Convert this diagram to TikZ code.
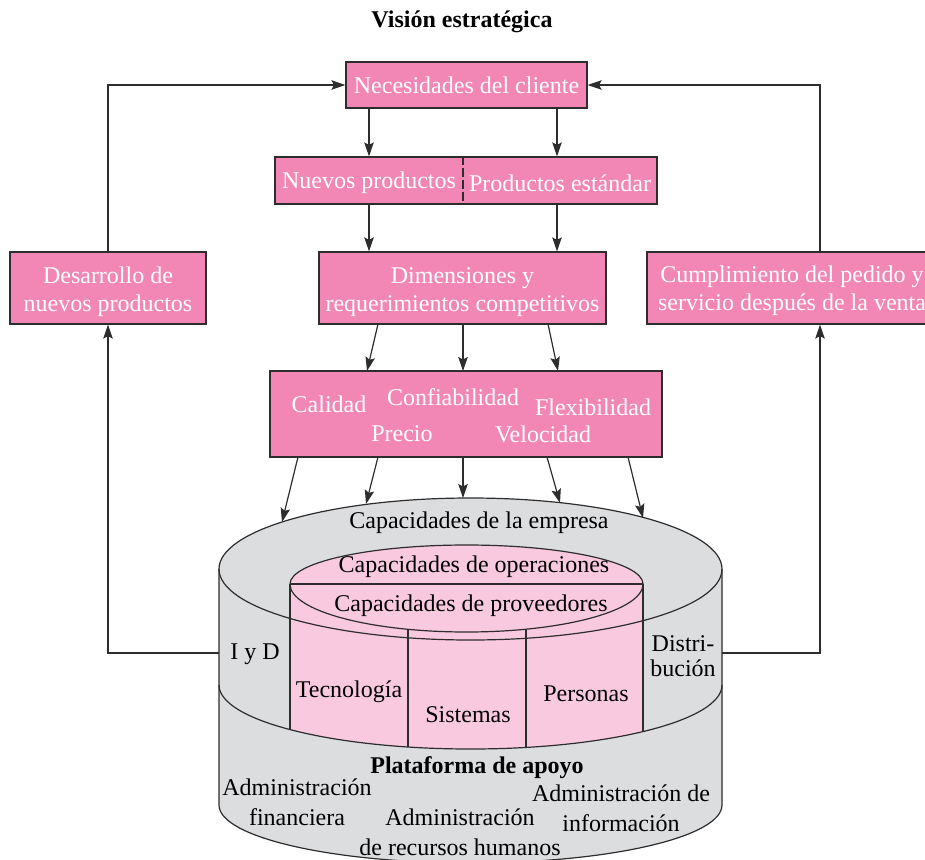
\documentclass[tikz,border=0pt]{standalone}
\usepackage{fontspec}
\setmainfont{Liberation Serif}
\usetikzlibrary{arrows.meta,calc}
\definecolor{boxpink}{RGB}{242,135,181}
\definecolor{lightpink}{RGB}{249,202,223}
\definecolor{cylgrey}{RGB}{220,221,223}
\definecolor{linegrey}{RGB}{45,45,45}
\begin{document}
\begin{tikzpicture}[x=1pt,y=-1pt,
  pbox/.style={draw=linegrey, line width=1.2pt, fill=boxpink, text=white,
    font=\fontsize{24}{28}\selectfont, align=center, inner sep=0pt},
  wtxt/.style={text=white, font=\fontsize{24}{28}\selectfont, inner sep=0pt, align=center},
  lbl/.style={font=\fontsize{24}{30}\selectfont, align=center, inner sep=0pt, text=black},
  conn/.style={draw=linegrey, line width=1.2pt},
  arr/.style={conn, -{Stealth[length=14pt,width=9.5pt,inset=2.5pt]}},
  cyl/.style={draw=linegrey, line width=1.2pt}]
\useasboundingbox (0,0) rectangle (925,859);

% ---------- title ----------
\node[lbl, font=\bfseries\fontsize{24}{28}\selectfont] (title) at (462,22) {Visión estratégica};

% ---------- boxes ----------
\node[pbox, minimum width=241, minimum height=46] (nec) at (466.5,85) {Necesidades del cliente};
\node[pbox, minimum width=382, minimum height=47] (np) at (466,180.5) {};
\node[wtxt] (nue) at (369,183) {Nuevos productos};
\node[wtxt] (est) at (560,183) {Productos estándar};
\coordinate (xD) at (463,0);
\draw[linegrey, line width=1.2pt, dash pattern=on 9pt off 3pt] (np.north -| xD) -- (np.south -| xD);

\node[pbox, minimum width=287, minimum height=72] (dim) at (462.5,288) {};
\node[wtxt] (dimt) at (462.5,292) {Dimensiones y\\requerimientos competitivos};
\node[pbox, minimum width=196, minimum height=72] (des) at (108,288) {};
\node[wtxt] (dest) at (108,292) {Desarrollo de\\nuevos productos};
\node[pbox, minimum width=290, minimum height=72] (cum) at (792,288) {};
\node[wtxt] (cumt) at (792,291) {Cumplimiento del pedido y\\servicio después de la venta};

\node[pbox, minimum width=392, minimum height=86] (cal) at (466,414) {};
\node[wtxt] (calidad) at (329,404) {Calidad};
\node[wtxt] (conf) at (453,397) {Confiabilidad};
\node[wtxt] (flex) at (593,407) {Flexibilidad};
\node[wtxt] (precio) at (402,434) {Precio};
\node[wtxt] (vel) at (543,434) {Velocidad};

% ---------- cylinder ----------
\path[fill=cylgrey] (219,569) -- (219,805)
  arc[start angle=180,end angle=0,x radius=251.5,y radius=58] -- (722,569)
  arc[start angle=0,end angle=-180,x radius=251.5,y radius=71] -- cycle;
\path[fill=lightpink] (290,584) -- (290,729.6)
  arc[start angle=135.86,end angle=46.69,x radius=251.5,y radius=64] -- (643,584)
  arc[start angle=0,end angle=-180,x radius=176.5,y radius=39] -- cycle;
\path[fill=lightpink] (290,584) arc[start angle=180,end angle=0,x radius=176.5,y radius=48] -- cycle;

\draw[cyl] (219,569) -- (219,805)
  arc[start angle=180,end angle=0,x radius=251.5,y radius=58] -- (722,569);
\draw[cyl] (470.5,569) ellipse[x radius=251.5,y radius=71];
\draw[cyl] (219,685) arc[start angle=180,end angle=0,x radius=251.5,y radius=64];
\draw[cyl] (290,584) -- (290,729.6);
\draw[cyl] (643,584) -- (643,731.6);
\draw[cyl] (643,584) arc[start angle=0,end angle=-180,x radius=176.5,y radius=39];
\draw[cyl] (290,584) arc[start angle=180,end angle=0,x radius=176.5,y radius=48];
\draw[cyl] (290,584) -- (643,584);
\draw[cyl] (408,629.3) -- (408,747);
\draw[cyl] (526,629.2) -- (526,747.4);

% ---------- cylinder labels ----------
\node[lbl] (emp) at (479,523) {Capacidades de la empresa};
\node[lbl] (ope) at (474,567) {Capacidades de operaciones};
\node[lbl] (pro) at (471,606) {Capacidades de proveedores};
\node[lbl] (iydl) at (255,654) {I y D};
\node[lbl] (tec) at (349,692) {Tecnología};
\node[lbl] (sis) at (468,715) {Sistemas};
\node[lbl] (per) at (586,694) {Personas};
\node[lbl, font=\fontsize{24}{24.5}\selectfont] (dist) at (683,656) {Distri-\\bución};
\node[lbl, font=\bfseries\fontsize{24}{28}\selectfont] (plat) at (477,768) {Plataforma de apoyo};
\node[lbl] (afin) at (297,802) {Administración\\financiera};
\node[lbl] (arh) at (460,832) {Administración\\de recursos humanos};
\node[lbl] (ainf) at (621,808) {Administración de\\información};

% ---------- connector coordinates ----------
\coordinate (xA) at (369,0);
\coordinate (xB) at (557,0);
\coordinate (xR) at (820,0);
\coordinate (d1) at (378,324);  \coordinate (c1) at (367,371);
\coordinate (d2) at (463,324);  \coordinate (c2) at (463,371);
\coordinate (d3) at (548,324);  \coordinate (c3) at (558,371);
\coordinate (k1) at (298,457);  \coordinate (t1) at (282,522);
\coordinate (k2) at (378,457);  \coordinate (t2) at (366,504);
\coordinate (k3) at (463,457);  \coordinate (t3) at (463,498);
\coordinate (k4) at (547,457);  \coordinate (t4) at (560,503);
\coordinate (k5) at (628,457);  \coordinate (t5) at (643,518);
\coordinate (iyd) at (219,653);
\coordinate (dis) at (722,653);

% ---------- connectors ----------
\draw[arr] (nec.south -| xA) -- (np.north -| xA);
\draw[arr] (nec.south -| xB) -- (np.north -| xB);
\draw[arr] (np.south -| xA) -- (dim.north -| xA);
\draw[arr] (np.south -| xB) -- (dim.north -| xB);
\draw[arr] (des.north) |- (nec.west);
\draw[arr] (cum.north -| xR) |- (nec.east);
\draw[arr] (d1) -- (c1);
\draw[arr] (d2) -- (c2);
\draw[arr] (d3) -- (c3);
\draw[arr] (k1) -- (t1);
\draw[arr] (k2) -- (t2);
\draw[arr] (k3) -- (t3);
\draw[arr] (k4) -- (t4);
\draw[arr] (k5) -- (t5);
\draw[arr] (iyd) -| (des.south);
\draw[arr] (dis) -| (cum.south -| xR);
\end{tikzpicture}
\end{document}
